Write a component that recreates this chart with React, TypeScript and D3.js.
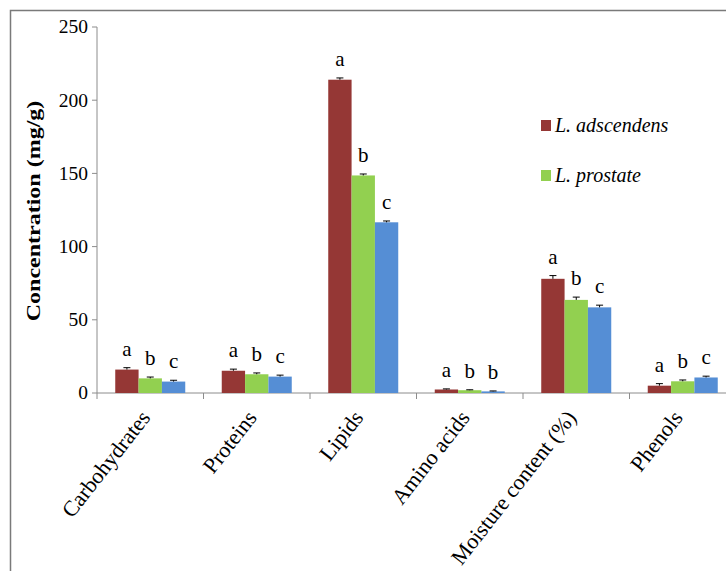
import React from "react";
import * as d3 from "d3";

const categories = ["Carbohydrates", "Proteins", "Lipids", "Amino acids", "Moisture content (%)", "Phenols"];
const seriesNames = ["L. adscendens", "L. prostate", "L. third"];
const seriesColors = ["#953735", "#92D050", "#558ED5"];
const adscendens = [16.0, 15.2, 214.0, 2.4, 78.0, 5.0];
const prostate = [10.0, 12.8, 148.6, 1.9, 63.6, 8.0];
const third = [7.8, 11.2, 116.6, 1.1, 58.5, 10.6];
const errAdscendens = [1.3, 1.1, 1.2, 0.4, 2.2, 1.4];
const errProstate = [0.9, 0.9, 1.0, 0.3, 1.9, 0.9];
const errThird = [0.9, 1.0, 0.9, 0.3, 1.5, 0.9];
const lettersAdscendens = ["a", "a", "a", "a", "a", "a"];
const lettersProstate = ["b", "b", "b", "b", "b", "b"];
const lettersThird = ["c", "c", "c", "b", "c", "c"];
const yTicks = [0, 50, 100, 150, 200, 250];

const values = [adscendens, prostate, third];
const errors = [errAdscendens, errProstate, errThird];
const letters = [lettersAdscendens, lettersProstate, lettersThird];

export default function App() {
  const W = 726, H = 571;
  const left = 97, zeroY = 393, topY = 27;
  const catW = 106.5;
  const x0 = d3.scaleBand<string>().domain(categories).range([left, left + catW * categories.length]).padding(0);
  const x1 = d3.scaleBand<number>().domain([0, 1, 2]).range([18.25, catW - 18.25]).padding(0);
  const y = d3.scaleLinear().domain([0, 250]).range([zeroY, topY]);
  const ff = { fontFamily: '"Liberation Serif"' };
  const axisColor = "#8c8c8c";

  return (
    <svg width={W} height={H} style={{ position: "absolute", left: 0, top: 0 }}>
      <rect x={0} y={0} width={W} height={H} fill="#fff" />
      <rect x={10.5} y={10.5} width={W + 20} height={H + 20} fill="none" stroke="#7a7a7a" strokeWidth={1.5} />
      {/* y axis */}
      <line x1={left} x2={left} y1={topY} y2={zeroY + 6} stroke={axisColor} strokeWidth={1} />
      {yTicks.map((t) => (
        <g key={t}>
          <line x1={left - 5} x2={left} y1={y(t)} y2={y(t)} stroke={axisColor} />
          <text x={88} y={y(t)} dy="0.33em" textAnchor="end" fontSize={19.5} style={ff}>{t}</text>
        </g>
      ))}
      {/* x axis */}
      <line x1={left} x2={W + 20} y1={zeroY} y2={zeroY} stroke={axisColor} />
      {categories.map((c) => (
        <line key={c} x1={x0(c)! + catW} x2={x0(c)! + catW} y1={zeroY} y2={zeroY + 6} stroke={axisColor} />
      ))}
      {/* bars */}
      {categories.map((c, i) => (
        <g key={c}>
          {values.map((vals, s) => {
            const bx = x0(c)! + x1(s)!;
            const bw = x1.bandwidth();
            const cx = bx + bw / 2;
            const v = vals[i];
            const e = errors[s][i];
            return (
              <g key={s}>
                <rect x={bx} y={y(v)} width={bw} height={zeroY - y(v)} fill={seriesColors[s]} />
                <line x1={cx} x2={cx} y1={y(v + e)} y2={y(v)} stroke="#000" strokeWidth={1} />
                <line x1={cx - 3.5} x2={cx + 3.5} y1={y(v + e)} y2={y(v + e)} stroke="#000" strokeWidth={1} />
                <text x={cx} y={y(v + e) - 12} textAnchor="middle" fontSize={21} style={ff}>{letters[s][i]}</text>
              </g>
            );
          })}
        </g>
      ))}
      {/* x labels */}
      {categories.map((c) => {
        const cx = x0(c)! + catW / 2 + 1;
        return (
          <text key={c} transform={`translate(${cx},${zeroY + 25}) rotate(-52)`} textAnchor="end" fontSize={22} style={ff}>{c}</text>
        );
      })}
      {/* y title */}
      <text transform={`translate(40,211) rotate(-90) scale(1,0.78)`} textAnchor="middle" fontSize={24} fontWeight="bold" style={ff}>Concentration (mg/g)</text>
      {/* legend */}
      {[0, 1].map((s) => (
        <g key={s}>
          <rect x={541} y={120 + s * 50} width={10} height={11} fill={seriesColors[s]} />
          <text x={555} y={132 + s * 50} fontSize={20} fontStyle="italic" style={ff}>{seriesNames[s]}</text>
        </g>
      ))}
    </svg>
  );
}
